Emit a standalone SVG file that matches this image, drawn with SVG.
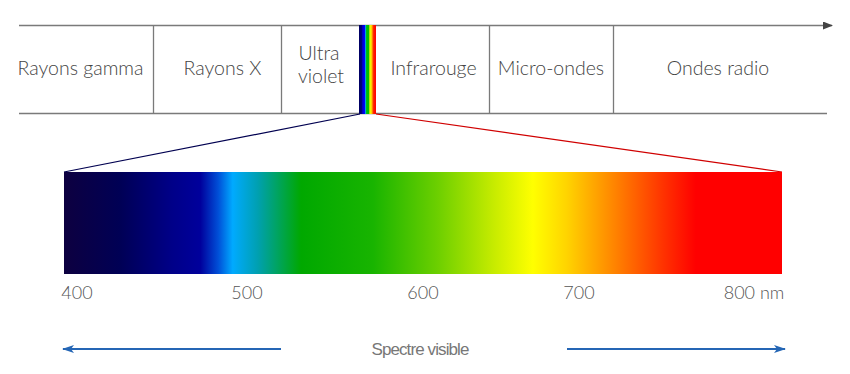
<svg xmlns="http://www.w3.org/2000/svg" width="850" height="374" viewBox="0 0 850 374">
<style>
.lbl{font-family:Lato,"Noto Sans","Liberation Sans",sans-serif;font-weight:300;font-size:19.5px;fill:#444;text-anchor:middle}
.num{font-family:Lato,"Noto Sans","Liberation Sans",sans-serif;font-weight:300;font-size:18px;fill:#555;text-anchor:middle}
.cap{font-family:"Liberation Sans",Arial,sans-serif;font-size:17px;fill:#777;text-anchor:middle;letter-spacing:-0.9px}
.axis{stroke:#7a7a7a;stroke-width:1.3;fill:none}
.blue{stroke:#2566b5;stroke-width:2;fill:none}
</style>
<defs>
<marker id="ah" markerWidth="10" markerHeight="8" refX="9" refY="4" orient="auto" markerUnits="userSpaceOnUse">
<path d="M0,0 L10,4 L0,8 Z" fill="#444"/>
</marker>
<marker id="bh" markerWidth="12" markerHeight="8" refX="11" refY="4" orient="auto-start-reverse" markerUnits="userSpaceOnUse">
<path d="M0,0 L12,4 L0,8 L3,4 Z" fill="#2566b5"/>
</marker>
<linearGradient id="rb" x1="0" y1="0" x2="1" y2="0">
<stop offset="0" stop-color="#000060"/>
<stop offset="0.17" stop-color="#000080"/>
<stop offset="0.2" stop-color="#0000c0"/>
<stop offset="0.33" stop-color="#0000ff"/>
<stop offset="0.37" stop-color="#00a0ff"/>
<stop offset="0.45" stop-color="#00c000"/>
<stop offset="0.58" stop-color="#00c000"/>
<stop offset="0.62" stop-color="#c0e000"/>
<stop offset="0.7" stop-color="#ffff00"/>
<stop offset="0.78" stop-color="#ff9000"/>
<stop offset="0.86" stop-color="#ff2000"/>
<stop offset="1" stop-color="#ff0000"/>
</linearGradient>
<linearGradient id="vs" x1="0" y1="0" x2="1" y2="0">
<stop offset="0" stop-color="#0d0040"/>
<stop offset="0.078" stop-color="#000055"/>
<stop offset="0.15" stop-color="#000088"/>
<stop offset="0.19" stop-color="#00009c"/>
<stop offset="0.215" stop-color="#0050d8"/>
<stop offset="0.235" stop-color="#00aaff"/>
<stop offset="0.27" stop-color="#00a0b0"/>
<stop offset="0.33" stop-color="#00a800"/>
<stop offset="0.43" stop-color="#18b400"/>
<stop offset="0.52" stop-color="#6ccf00"/>
<stop offset="0.6" stop-color="#c8ec00"/>
<stop offset="0.653" stop-color="#ffff00"/>
<stop offset="0.7" stop-color="#ffd400"/>
<stop offset="0.76" stop-color="#ff8c00"/>
<stop offset="0.834" stop-color="#ff3300"/>
<stop offset="0.88" stop-color="#ff0000"/>
<stop offset="1" stop-color="#ff0000"/>
</linearGradient>
</defs>

<g id="connectors">
<line class="axis" x1="19" y1="25.5" x2="832" y2="25.5" marker-end="url(#ah)"/>
<line class="axis" x1="19" y1="113.5" x2="827" y2="113.5"/>
<line x1="360" y1="114" x2="64" y2="172" stroke="#000050" stroke-width="1.2"/>
<line x1="376" y1="114" x2="782" y2="172" stroke="#d00000" stroke-width="1.2"/>
<line class="blue" x1="281" y1="349" x2="63" y2="349" marker-end="url(#bh)"/>
<line class="blue" x1="567" y1="349" x2="785" y2="349" marker-end="url(#bh)"/>
</g>

<g id="gamma">
<text class="lbl" x="80.5" y="75">Rayons gamma</text>
</g>
<g id="x">
<line class="axis" x1="153.5" y1="25.5" x2="153.5" y2="113.5"/>
<text class="lbl" x="222.5" y="75">Rayons X</text>
</g>
<g id="uv">
<line class="axis" x1="281.5" y1="25.5" x2="281.5" y2="113.5"/>
<text class="lbl" x="319" y="60">Ultra</text>
<text class="lbl" x="321" y="83">violet</text>
</g>
<g id="visible-band">
<rect x="359" y="25" width="17" height="89" fill="url(#rb)"/>
</g>
<g id="ir">
<text class="lbl" x="433.5" y="75">Infrarouge</text>
</g>
<g id="micro">
<line class="axis" x1="489.5" y1="25.5" x2="489.5" y2="113.5"/>
<text class="lbl" x="551" y="75">Micro-ondes</text>
</g>
<g id="radio">
<line class="axis" x1="613.5" y1="25.5" x2="613.5" y2="113.5"/>
<text class="lbl" x="718" y="75">Ondes radio</text>
</g>

<g id="spectrum">
<rect x="64" y="172" width="718" height="102" fill="url(#vs)"/>
<text class="num" x="77" y="299">400</text>
<text class="num" x="247" y="299">500</text>
<text class="num" x="423" y="299">600</text>
<text class="num" x="579" y="299">700</text>
<text class="num" x="754" y="299">800 nm</text>
</g>

<g id="caption">
<text class="cap" x="420" y="355">Spectre visible</text>
</g>
</svg>
